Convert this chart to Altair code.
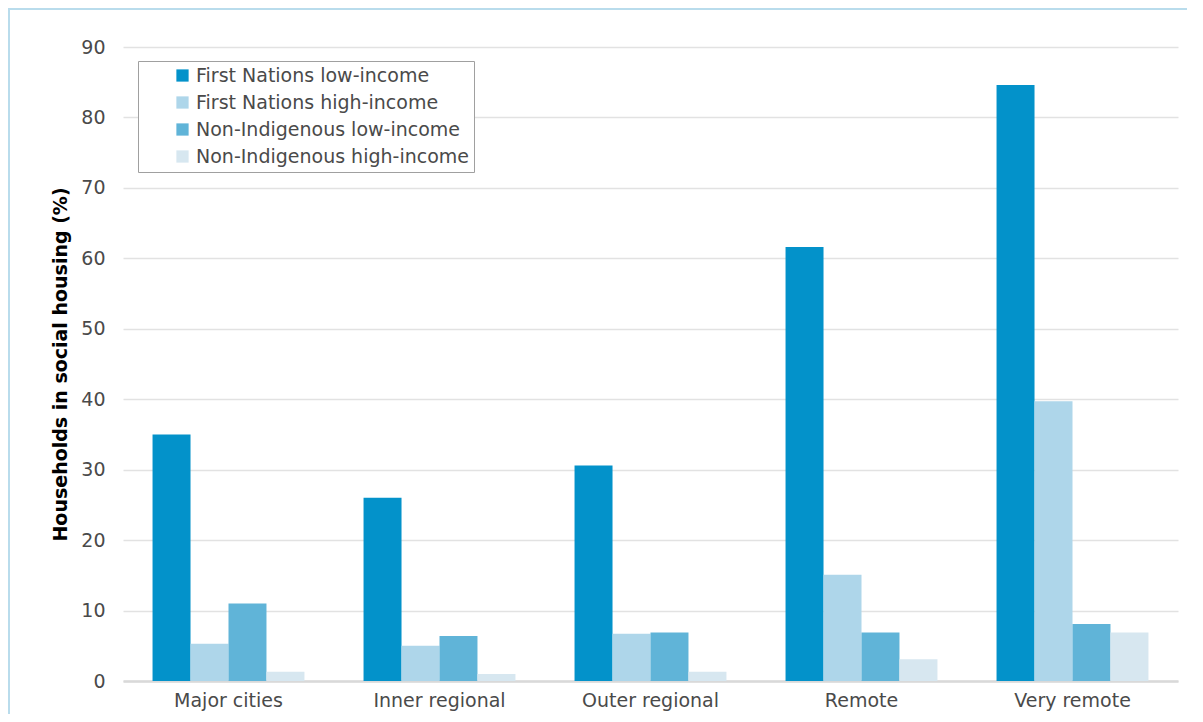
import altair as alt
import pandas as pd

regions = ["Major cities", "Inner regional", "Outer regional", "Remote", "Very remote"]
series = ["First Nations low-income", "First Nations high-income",
          "Non-Indigenous low-income", "Non-Indigenous high-income"]
fn_low = [35.0, 26.0, 30.6, 61.6, 84.6]
fn_high = [5.3, 5.0, 6.7, 15.1, 39.7]
ni_low = [11.0, 6.4, 6.9, 6.9, 8.1]
ni_high = [1.3, 1.0, 1.3, 3.1, 6.9]
colors = ["#0392CA", "#AED6EA", "#60B4D8", "#D7E7F0"]
y_ticks = [0, 10, 20, 30, 40, 50, 60, 70, 80, 90]

rows = []
for s, vals in zip(series, [fn_low, fn_high, ni_low, ni_high]):
    for r, v in zip(regions, vals):
        rows.append({"region": r, "series": s, "value": v})
df = pd.DataFrame(rows)

FONT = "DejaVu Sans"
TXT = "#4A4A4A"

bars = alt.Chart(df).mark_bar().encode(
    x=alt.X("region:N", sort=regions, title=None,
            scale=alt.Scale(paddingInner=0.28, paddingOuter=0.14),
            axis=alt.Axis(labelAngle=0, labelFontSize=19, labelColor=TXT,
                          labelFont=FONT, labelFontWeight="normal", labelPadding=10,
                          ticks=False, domain=True, domainColor="#D9D9D9",
                          domainWidth=2.5)),
    xOffset=alt.XOffset("series:N", sort=series, scale=alt.Scale(paddingInner=0)),
    y=alt.Y("value:Q", title="Households in social housing (%)",
            scale=alt.Scale(domain=[0, 90], nice=False),
            axis=alt.Axis(values=y_ticks, labelFontSize=19, labelColor=TXT,
                          labelFont=FONT, labelFontWeight="normal", labelPadding=18,
                          ticks=False, domain=False, gridColor="#E2E2E2",
                          gridWidth=1.5, titleFont=FONT,
                          titleFontWeight="bold", titleFontSize=19,
                          titleColor="#000000", titlePadding=10)),
    color=alt.Color("series:N", sort=series,
                    scale=alt.Scale(domain=series, range=colors),
                    legend=alt.Legend(title=None, orient="none", legendX=15, legendY=14,
                                      labelFont=FONT, labelFontWeight="normal",
                                      labelFontSize=19, labelColor=TXT,
                                      symbolType="square", symbolSize=150,
                                      symbolStrokeWidth=0, symbolOffset=30,
                                      rowPadding=7, padding=5,
                                      strokeColor="#A0A0A0", fillColor="#FFFFFF",
                                      labelLimit=400)),
)

frame = alt.Chart(pd.DataFrame({"a": [0]})).mark_rect(
    filled=False, stroke="#B9DCEC", strokeWidth=2, strokeOpacity=1
).encode(x=alt.value(-114), x2=alt.value(1100), y=alt.value(-38), y2=alt.value(720))

chart = alt.layer(frame, bars).properties(
    width=1055, height=634,
    autosize=alt.AutoSizeParams(type="none"),
    padding={"left": 115, "top": 39, "right": 9, "bottom": 33},
).configure_view(stroke=None)

chart.save("out.html", embed_options={"renderer": "svg", "actions": False})
